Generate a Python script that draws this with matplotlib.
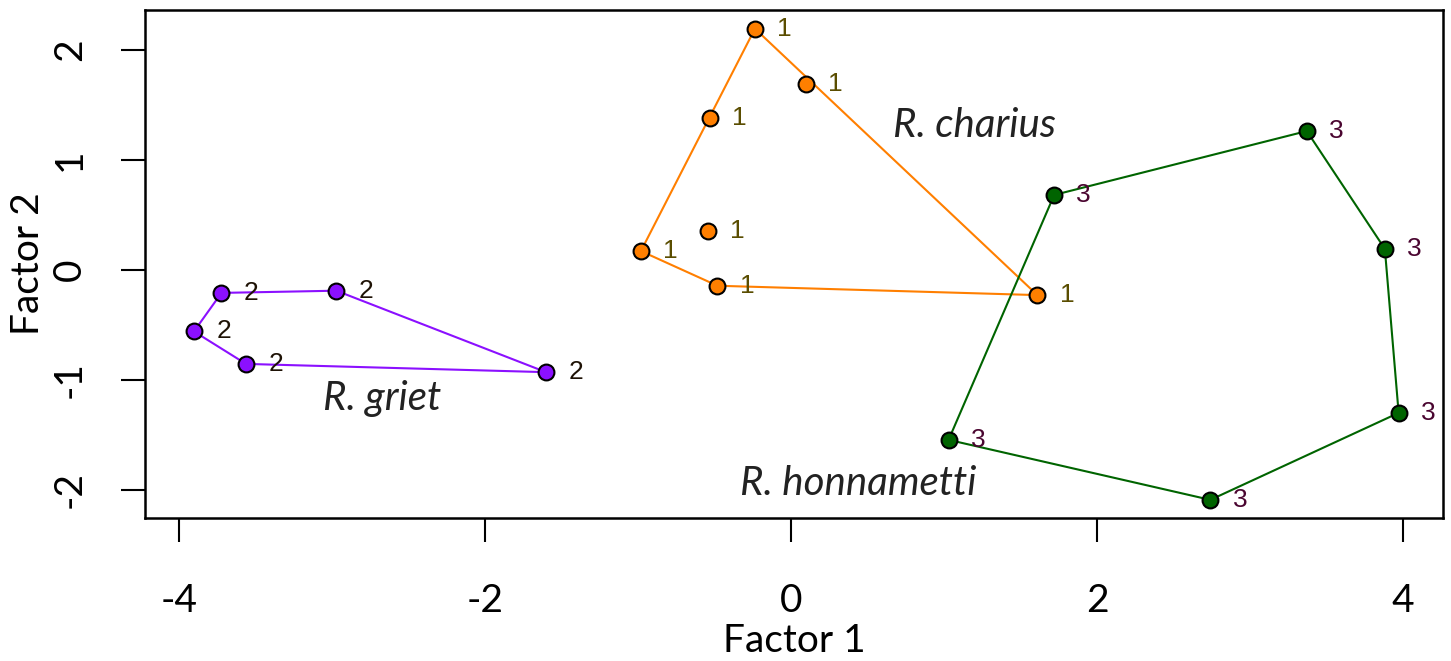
import numpy as np
import matplotlib
matplotlib.use("Agg")
import matplotlib.pyplot as plt

# factor scores, one array per group
charius_x = [-0.235, 0.098, -0.53, -0.54, -0.98, -0.48, 1.61]
charius_y = [2.19, 1.69, 1.38, 0.355, 0.17, -0.145, -0.23]
griet_x = [-3.72, -2.97, -3.90, -3.56, -1.60]
griet_y = [-0.21, -0.19, -0.56, -0.855, -0.93]
honn_x = [3.37, 1.72, 3.88, 3.97, 1.03, 2.74]
honn_y = [1.26, 0.68, 0.19, -1.30, -1.545, -2.09]

groups = [("1", charius_x, charius_y, "#FF7F00", "#5a4d00"),
          ("2", griet_x, griet_y, "#8B10FF", "#1e1205"),
          ("3", honn_x, honn_y, "#006400", "#4a0530")]

names = ["R. charius", "R. griet", "R. honnametti"]
name_x = [1.20, -2.67, 0.44]
name_y = [1.31, -1.17, -1.94]

x_ticks = [-4, -2, 0, 2, 4]
y_ticks = [-2, -1, 0, 1, 2]


def hull(xs, ys):
    pts = sorted(zip(xs, ys))

    def cross(o, a, b):
        return (a[0] - o[0]) * (b[1] - o[1]) - (a[1] - o[1]) * (b[0] - o[0])

    lower, upper = [], []
    for p in pts:
        while len(lower) >= 2 and cross(lower[-2], lower[-1], p) <= 0:
            lower.pop()
        lower.append(p)
    for p in reversed(pts):
        while len(upper) >= 2 and cross(upper[-2], upper[-1], p) <= 0:
            upper.pop()
        upper.append(p)
    h = lower[:-1] + upper[:-1]
    h.append(h[0])
    return np.array(h)


fig = plt.figure(figsize=(14.51, 6.61), dpi=100)
ax = fig.add_axes([0.0999, 0.2163, 0.8946, 0.7686])

for lab, xs, ys, col, tcol in groups:
    h = hull(xs, ys)
    ax.plot(h[:, 0], h[:, 1], color=col, lw=1.5, zorder=2)
    ax.scatter(xs, ys, s=130, color=col, edgecolor="black", linewidth=1.5, zorder=3)
    for x, y in zip(xs, ys):
        ax.annotate(lab, (x, y), xytext=(16, 0), textcoords="offset points",
                    ha="left", va="center", fontsize=19, color=tcol,
                    family="Liberation Sans", zorder=4)

for n, x, y in zip(names, name_x, name_y):
    ax.text(x, y, n, ha="center", va="center", fontsize=29, style="italic",
            family="Lato", color="#222222")

ax.set_xlim(-4.22, 4.26)
ax.set_ylim(-2.255, 2.36)
ax.set_xticks(x_ticks)
ax.set_yticks(y_ticks)
ax.set_xticklabels([str(t) for t in x_ticks], family="Lato", fontsize=28)
ax.set_yticklabels([str(t) for t in y_ticks], family="Lato", fontsize=28,
                   rotation=90, va="center")
ax.tick_params(length=17, width=1.5)
ax.tick_params(axis="x", pad=30)
ax.tick_params(axis="y", pad=24)
for s in ax.spines.values():
    s.set_linewidth(1.8)
ax.set_xlabel("Factor 1", family="Lato", fontsize=28)
ax.xaxis.set_label_coords(0.5, -0.207)
ax.set_ylabel("Factor 2", family="Lato", fontsize=28, labelpad=4)

fig.savefig("out.png", dpi=100)
